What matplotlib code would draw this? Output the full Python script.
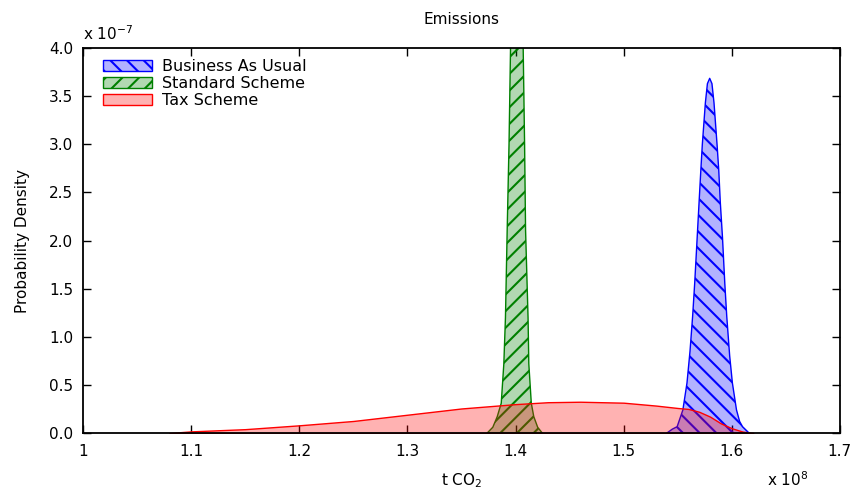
import matplotlib
matplotlib.use('Agg')
import numpy as np
import matplotlib.pyplot as plt
from matplotlib.ticker import FuncFormatter, MultipleLocator

# x values in units of 1e8 t CO2, densities in units of 1e-7
X_SCALE = 1e8
Y_SCALE = 1e-7

bau_x = [1.540, 1.545, 1.5495, 1.5548, 1.5586, 1.5614, 1.5638, 1.5657, 1.5674, 1.5698, 1.5714,
         1.5728, 1.5756, 1.5775, 1.5796, 1.5817, 1.5836, 1.5864, 1.5880, 1.5894, 1.5914,
         1.5936, 1.5954, 1.5981, 1.6006, 1.6044, 1.6073, 1.610, 1.616]
bau_y = [0.0, 0.04, 0.066, 0.24, 0.52, 0.85, 1.21, 1.55, 1.90, 2.40, 2.73,
         3.0, 3.43, 3.63, 3.685, 3.63, 3.43, 3.0, 2.73, 2.40, 2.04,
         1.55, 1.21, 0.80, 0.52, 0.24, 0.12, 0.066, 0.0]

std_x = [1.3738, 1.3790, 1.3831, 1.3868, 1.3892, 1.3907, 1.3923, 1.3940, 1.3954, 1.3980,
         1.4012, 1.4045, 1.4071, 1.4084, 1.4093, 1.4116, 1.4123, 1.4146, 1.4169, 1.4205, 1.4247]
std_y = [0.0, 0.06, 0.17, 0.31, 0.72, 1.2, 2.11, 3.0, 4.0, 5.8,
         7.0, 5.8, 4.0, 3.0, 2.11, 1.2, 0.72, 0.31, 0.17, 0.06, 0.0]

tax_x = [1.08, 1.10, 1.15, 1.20, 1.25, 1.30, 1.35, 1.40, 1.43, 1.46, 1.50, 1.53,
         1.55, 1.56, 1.57, 1.58, 1.59, 1.60, 1.61, 1.62]
tax_y = [0.0, 0.017, 0.04, 0.08, 0.125, 0.19, 0.255, 0.30, 0.32, 0.325, 0.315, 0.285,
         0.26, 0.25, 0.22, 0.17, 0.10, 0.05, 0.015, 0.0]

x_ticks = [1.0, 1.1, 1.2, 1.3, 1.4, 1.5, 1.6, 1.7]

plt.rcParams['hatch.linewidth'] = 1.5
plt.rcParams['font.family'] = 'DejaVu Sans'

fig = plt.figure(figsize=(8.57, 4.91), dpi=100)
ax = fig.add_axes([0.0969, 0.1181, 0.980 - 0.0969, 0.9022 - 0.1181])


def shade(xs, ys, rgb, hatch, label):
    xs = np.array(xs) * X_SCALE
    ys = np.array(ys) * Y_SCALE
    return ax.fill_between(xs, 0, ys, facecolor=rgb + (0.3,), edgecolor=rgb,
                           hatch=hatch, linewidth=1.0, label=label)


shade(bau_x, bau_y, (0.0, 0.0, 1.0), '\\\\', 'Business As Usual')
shade(std_x, std_y, (0.0, 0.5, 0.0), '//', 'Standard Scheme')
shade(tax_x, tax_y, (1.0, 0.0, 0.0), None, 'Tax Scheme')

ax.set_xlim(1.0 * X_SCALE, 1.7 * X_SCALE)
ax.set_ylim(0, 4.0 * Y_SCALE)
ax.set_xticks(np.array(x_ticks) * X_SCALE)
ax.yaxis.set_major_locator(MultipleLocator(0.5 * Y_SCALE))
ax.xaxis.set_major_formatter(FuncFormatter(lambda v, p: '%g' % round(v / X_SCALE, 3)))
ax.yaxis.set_major_formatter(FuncFormatter(lambda v, p: '%.1f' % (v / Y_SCALE)))
ax.set_axisbelow(True)
ax.tick_params(direction='in', top=True, right=True, length=6, width=1.0, labelsize=11)
ax.tick_params(axis='x', pad=8)
ax.tick_params(axis='y', pad=7)
for s in ax.spines.values():
    s.set_linewidth(1.3)

ax.set_title('Emissions', fontsize=11, pad=17.5)
ax.set_xlabel('t CO$_2$', fontsize=11, labelpad=9)
ax.set_ylabel('Probability Density', fontsize=11, labelpad=14)

# scale labels, written the way the original shows them
ax.text(0.0, 1.014, 'x 10$^{\\mathregular{-7}}$', transform=ax.transAxes,
        ha='left', va='bottom', fontsize=11)
ax.text(0.958, -0.122, 'x 10$^{\\mathregular{8}}$', transform=ax.transAxes,
        ha='right', va='center', fontsize=11)

ax.legend(loc='upper left', bbox_to_anchor=(0.005, 1.013), frameon=False,
          fontsize=11.5, handlelength=3.1, handleheight=0.65, handletextpad=0.6,
          labelspacing=0.12, borderaxespad=0.6, borderpad=0.4)

fig.savefig('out.png', dpi=100)
